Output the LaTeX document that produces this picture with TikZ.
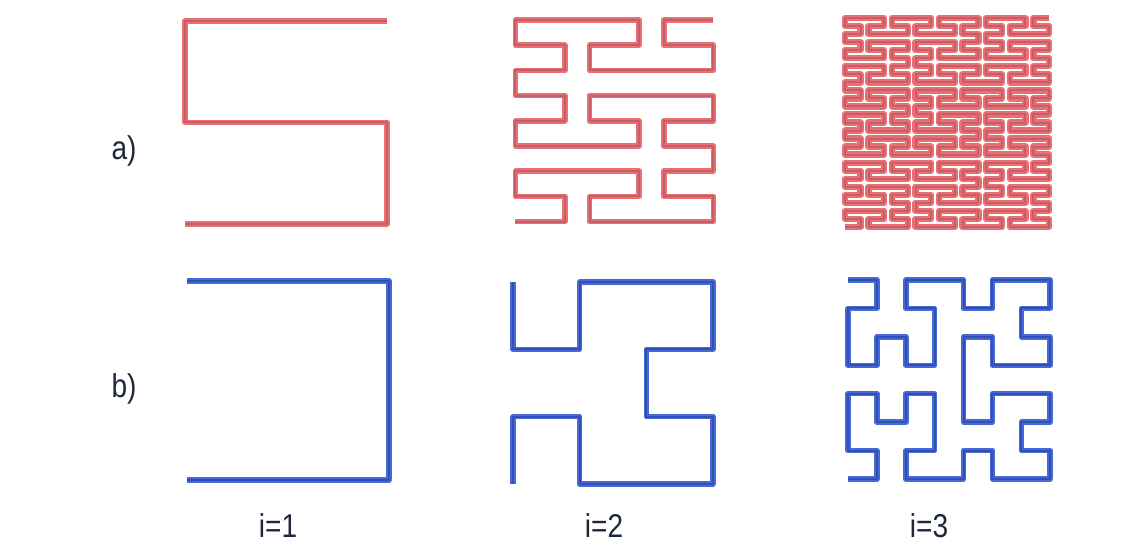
\documentclass[tikz,border=0pt]{standalone}
\usepackage{fontspec}
\setmainfont{Liberation Sans}
\usetikzlibrary{lindenmayersystems}
\pgfdeclarelindenmayersystem{Peano}{
  \rule{X -> XFYFX+F+YFXFY-F-XFYFX}
  \rule{Y -> YFXFY-F-XFYFX+F+YFXFY}
}
\pgfdeclarelindenmayersystem{Hilbert}{
  \rule{L -> +RF-LFL-FR+}
  \rule{R -> -LF+RFR+FL-}
}
\definecolor{peanoout}{RGB}{234,112,112}
\definecolor{peanoin}{RGB}{200,92,108}
\definecolor{hilbout}{RGB}{72,105,210}
\definecolor{hilbin}{RGB}{48,78,188}
\definecolor{labelc}{RGB}{30,40,60}
\tikzset{
  peanoline/.style={draw=peanoout, line width=#1, line join=round},
  peanocore/.style={draw=peanoin, line width=2pt, line join=round},
  hilbline/.style={draw=hilbout, line width=5.5pt, line join=round},
  hilbcore/.style={draw=hilbin, line width=2pt, line join=round},
  lbl/.style={text=labelc, font=\fontsize{33}{36}\selectfont, xscale=0.85, inner sep=0pt},
}
% #1 x, #2 y, #3 order, #4 step, #5 xscale, #6 yscale, #7 outer width
\newcommand\mypeano[7]{%
  \draw[peanoline=#7, shift={(#1,#2)}, xscale=#5, yscale=#6, rotate=180,
    lindenmayer system={Peano, axiom=X, order=#3, step=#4pt, angle=90}]
    (0,0) lindenmayer system;
  \draw[peanocore, shift={(#1,#2)}, xscale=#5, yscale=#6, rotate=180,
    lindenmayer system={Peano, axiom=X, order=#3, step=#4pt, angle=90}]
    (0,0) lindenmayer system;
}
\newcommand\myhilbert[6]{%
  \draw[hilbline, shift={(#1,#2)}, xscale=#5, yscale=#6, rotate=-90,
    lindenmayer system={Hilbert, axiom=L, order=#3, step=#4pt, angle=90}]
    (0,0) lindenmayer system;
  \draw[hilbcore, shift={(#1,#2)}, xscale=#5, yscale=#6, rotate=-90,
    lindenmayer system={Hilbert, axiom=L, order=#3, step=#4pt, angle=90}]
    (0,0) lindenmayer system;
}
\begin{document}
\begin{tikzpicture}[x=1pt,y=1pt]
\useasboundingbox[fill=white] (0,0) rectangle (1143,545);
% a) Peano-type curves
\mypeano{387}{524}{1}{101}{1}{1.005}{5.5pt}
\mypeano{713.3}{525}{2}{25}{0.99}{1.008}{5.5pt}
\mypeano{1049}{527}{3}{8}{0.981}{1.005}{6.4pt}
% b) Hilbert curves
\myhilbert{187}{264}{1}{200}{1.01}{0.995}
\myhilbert{513}{263}{2}{67}{0.995}{1.005}
\myhilbert{848}{265}{3}{28.6}{1.01}{0.994}
% labels
\node[lbl, anchor=base] (la) at (124,385) {a)};
\node[lbl, anchor=base] (lb) at (124,147) {b)};
\node[lbl, anchor=base] (l1) at (278,7) {i=1};
\node[lbl, anchor=base] (l2) at (604,7) {i=2};
\node[lbl, anchor=base] (l3) at (929,7) {i=3};
\end{tikzpicture}
\end{document}
